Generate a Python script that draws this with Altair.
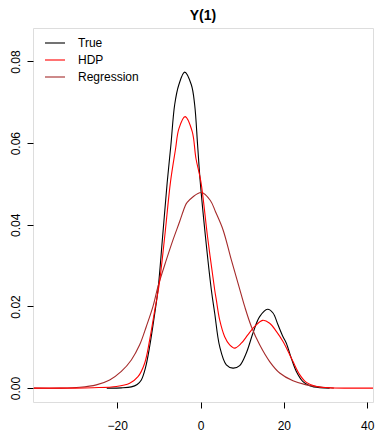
import altair as alt
import pandas as pd

# Density curves
true_x = [-22.5, -19, -16.6, -15.2, -14.2, -13.2, -12.2, -11.1, -10.2, -9.1, -8.0, -7.1, -6.2, -5.2, -3.8,
          -2.2, -1.4, -0.7, -0.1, 1.2, 2.6, 3.4, 4.6, 6.2, 7.8, 9.4, 11.0, 12.6, 14.2, 16.1, 17.4, 18.6,
          19.8, 20.6, 21.8, 23.0, 24.6, 26.2, 28.6, 31]
true_y = [0.0, 0.00005, 0.0003, 0.0009, 0.002, 0.005, 0.0102, 0.0175, 0.0241, 0.037, 0.0503, 0.0596, 0.0694,
          0.0743, 0.0774, 0.0743, 0.0694, 0.0596, 0.051, 0.037, 0.0241, 0.0184, 0.0102, 0.0057, 0.0049,
          0.0055, 0.0086, 0.0135, 0.0175, 0.0193, 0.0184, 0.0155, 0.0126, 0.011, 0.0073, 0.0041, 0.0016,
          0.0006, 0.0001, 0.0]

hdp_x = [-40, -30, -25.8, -20.2, -17.0, -15.0, -13.4, -12.2, -11.0, -9.9, -8.6, -7.2, -6.0, -5.2, -3.7,
         -2.0, -1.1, 0.1, 1.7, 3.4, 3.8, 4.6, 5.8, 7.0, 8.2, 9.8, 11.4, 13.0, 14.9, 16.6, 18.2, 19.8,
         21.4, 22.2, 23.8, 25.4, 27.8, 31, 35, 41.4]
hdp_y = [0.0, 0.0, 0.0001, 0.0004, 0.0012, 0.0028, 0.0061, 0.0118, 0.019, 0.0255, 0.037, 0.0505, 0.0585,
         0.0635, 0.0665, 0.0629, 0.0563, 0.0505, 0.037, 0.0241, 0.0216, 0.0167, 0.0126, 0.0106, 0.0098,
         0.011, 0.0131, 0.0151, 0.0166, 0.0159, 0.0139, 0.0114, 0.0082, 0.0065, 0.0033, 0.0014, 0.0004,
         0.0001, 0.0, 0.0]

reg_x = [-40, -33.8, -29.0, -25.0, -21.8, -19.0, -16.6, -14.6, -13.0, -11.4, -10.2, -8.2, -6.6, -5.0,
         -3.8, -3.2, 0.2, 2.4, 3.6, 5.4, 7.4, 9.2, 10.6, 12.2, 14.2, 16.6, 19.0, 22.2, 25.4, 29.4, 32]
reg_y = [0.0, 0.0, 0.0002, 0.0008, 0.002, 0.0041, 0.0069, 0.0106, 0.0151, 0.02, 0.0249, 0.0314, 0.0363,
         0.0408, 0.0443, 0.0455, 0.0479, 0.0459, 0.0432, 0.0388, 0.0314, 0.025, 0.02, 0.0151, 0.0106,
         0.0065, 0.0037, 0.0018, 0.0008, 0.0002, 0.0]

series_names = ["True", "HDP", "Regression"]
series_colors = ["#000000", "#FF0000", "#A52A2A"]
x_ticks = [-20, 0, 20, 40]
y_ticks = [0.0, 0.02, 0.04, 0.06, 0.08]

df = pd.concat([
    pd.DataFrame({"x": true_x, "y": true_y, "series": "True"}),
    pd.DataFrame({"x": reg_x, "y": reg_y, "series": "Regression"}),
    pd.DataFrame({"x": hdp_x, "y": hdp_y, "series": "HDP"}),
])

FONT = "Liberation Sans"

base = alt.Chart(df).mark_line(clip=True, strokeWidth=1.1, interpolate="catmull-rom").encode(
    x=alt.X("x:Q", scale=alt.Scale(domain=[-40.2, 41.4], nice=False, zero=False),
            axis=alt.Axis(values=x_ticks, title=None, grid=False, domain=False, tickSize=6,
                          tickColor="black", labelColor="black", labelFontSize=12, labelFont=FONT,
                          labelPadding=12, labelFlush=False)),
    y=alt.Y("y:Q", scale=alt.Scale(domain=[-0.0034, 0.0882], nice=False, zero=False),
            axis=alt.Axis(values=y_ticks, format=".2f", title=None, grid=False, domain=False, tickSize=6,
                          tickColor="black", labelColor="black", labelFontSize=12, labelFont=FONT,
                          labelAngle=270, labelAlign="center", labelBaseline="bottom",
                          labelPadding=5, labelFlush=False)),
    color=alt.Color("series:N",
                    scale=alt.Scale(domain=series_names, range=series_colors),
                    legend=alt.Legend(title=None, orient="none", legendX=11, legendY=4,
                                      symbolType="stroke", symbolSize=400, symbolStrokeWidth=1.1,
                                      labelFontSize=12, labelFont=FONT, labelColor="black",
                                      labelOffset=12, rowPadding=-16, padding=0)),
)

layers = [base.transform_filter(alt.datum.series == s) for s in ["True", "Regression", "HDP"]]

chart = alt.layer(*layers).properties(
    width=340, height=374,
    title=alt.TitleParams("Y(1)", fontSize=14, fontWeight="bold", font=FONT, color="black",
                          anchor="middle", offset=5),
    autosize=alt.AutoSizeParams(type="none"),
    padding={"left": 33, "top": 28, "right": 4, "bottom": 30},
).configure_view(stroke="black", strokeWidth=1, fill=None).configure(background="white")

chart.save("out.html", embed_options={"renderer": "svg", "actions": False})
